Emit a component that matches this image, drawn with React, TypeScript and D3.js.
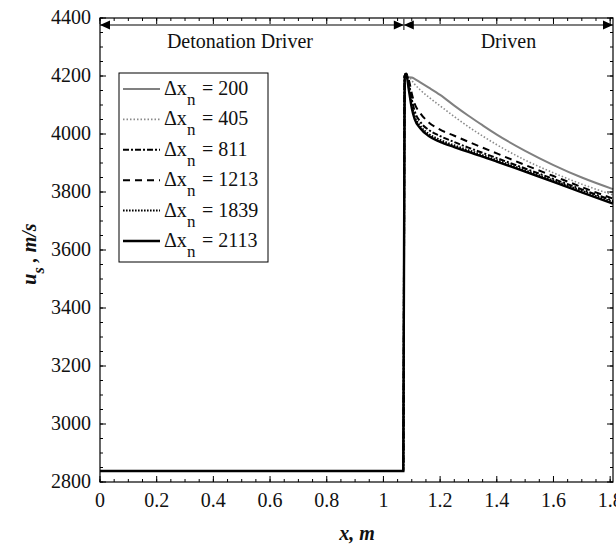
import React from "react";
import * as d3 from "d3";

const X = [0, 1.07, 1.075, 1.08, 1.09, 1.1, 1.11, 1.13, 1.16, 1.2, 1.25, 1.3, 1.35, 1.4, 1.5, 1.6, 1.7, 1.81];
const dx200 = [2838, 2838, 4185, 4192, 4196, 4195, 4190, 4178, 4160, 4135, 4098, 4063, 4030, 3998, 3942, 3893, 3850, 3810];
const dx405 = [2838, 2838, 4190, 4200, 4198, 4185, 4172, 4152, 4127, 4097, 4060, 4025, 3993, 3963, 3910, 3866, 3827, 3790];
const dx811 = [2838, 2838, 4200, 4208, 4175, 4120, 4080, 4042, 4014, 3993, 3972, 3953, 3935, 3917, 3881, 3845, 3809, 3770];
const dx1213 = [2838, 2838, 4200, 4208, 4185, 4140, 4105, 4072, 4040, 4015, 3994, 3973, 3953, 3933, 3893, 3855, 3817, 3777];
const dx1839 = [2838, 2838, 4200, 4208, 4160, 4100, 4062, 4028, 4000, 3980, 3961, 3944, 3927, 3910, 3875, 3840, 3804, 3765];
const dx2113 = [2838, 2838, 4200, 4208, 4150, 4090, 4052, 4020, 3993, 3973, 3955, 3938, 3922, 3905, 3870, 3835, 3799, 3760];

const legendLabels = ["200", "405", "811", "1213", "1839", "2113"];
const xTicks = [0, 0.2, 0.4, 0.6, 0.8, 1, 1.2, 1.4, 1.6, 1.8];
const yTicks = [2800, 3000, 3200, 3400, 3600, 3800, 4000, 4200, 4400];
const regionLabels = ["Detonation Driver", "Driven"];
const xDivide = 1.072;

const TF = { fontFamily: '"Liberation Serif", "Times New Roman", Tinos, monospace' };

const styles = [
  { color: "#808080", width: 2, dash: "none" },
  { color: "#8a8a8a", width: 1.6, dash: "1.5,2" },
  { color: "#000", width: 2, dash: "6,2,2,2" },
  { color: "#000", width: 2, dash: "7,5" },
  { color: "#000", width: 2, dash: "1.6,1.4" },
  { color: "#000", width: 2.4, dash: "none" },
];

export default function App() {
  const W = 616, H = 548;
  const L = 100, R = 613, T = 18, B = 482;
  const x = d3.scaleLinear().domain([0, 1.81]).range([L, R]);
  const y = d3.scaleLinear().domain([2800, 4400]).range([B, T]);
  const series = [dx200, dx405, dx811, dx1213, dx1839, dx2113];
  const line = d3
    .line<[number, number]>()
    .x((d) => x(d[0]))
    .y((d) => y(d[1]))
    .curve(d3.curveMonotoneX);

  const xMinor = d3.range(0, 1.81 + 1e-9, 0.05);
  const yMinor = d3.range(2800, 4400 + 1e-9, 50);
  const aY = 25;
  const xd = x(xDivide);
  const ah = 10, aw = 4.5;

  return (
    <svg width={W} height={H} style={{ display: "block", position: "absolute", left: 0, top: 0 }}>
      <rect x={0} y={0} width={W} height={H} fill="#fff" />
      {xMinor.map((v, i) => (
        <g key={"xm" + i} stroke="#000" strokeWidth={1}>
          <line x1={x(v)} x2={x(v)} y1={B} y2={B - 3} />
          <line x1={x(v)} x2={x(v)} y1={T} y2={T + 3} />
        </g>
      ))}
      {yMinor.map((v, i) => (
        <g key={"ym" + i} stroke="#000" strokeWidth={1}>
          <line x1={L} x2={L + 3} y1={y(v)} y2={y(v)} />
          <line x1={R} x2={R - 3} y1={y(v)} y2={y(v)} />
        </g>
      ))}
      {xTicks.map((v, i) => (
        <g key={"xt" + i}>
          <line x1={x(v)} x2={x(v)} y1={B} y2={B - 6} stroke="#000" />
          <line x1={x(v)} x2={x(v)} y1={T} y2={T + 6} stroke="#000" />
          <text x={x(v)} y={B + 25} fontSize={20} textAnchor="middle" fill="#111" style={TF}>
            {String(v)}
          </text>
        </g>
      ))}
      {yTicks.map((v, i) => (
        <g key={"yt" + i}>
          <line x1={L} x2={L + 6} y1={y(v)} y2={y(v)} stroke="#000" />
          <line x1={R} x2={R - 6} y1={y(v)} y2={y(v)} stroke="#000" />
          <text x={L - 9} y={y(v) + 6} fontSize={20} textAnchor="end" fill="#111" style={TF}>
            {String(v)}
          </text>
        </g>
      ))}
      {series.map((s, k) => (
        <path
          key={"s" + k}
          d={line(X.map((xv, i) => [xv, s[i]] as [number, number])) || ""}
          fill="none"
          stroke={styles[k].color}
          strokeWidth={styles[k].width}
          strokeDasharray={styles[k].dash}
        />
      ))}
      <rect x={L} y={T} width={R - L} height={B - T} fill="none" stroke="#000" strokeWidth={1.2} />
      <line x1={L} x2={R} y1={aY} y2={aY} stroke="#000" strokeWidth={1.2} />
      <line x1={xd} x2={xd} y1={T} y2={T + 12} stroke="#555" strokeWidth={1.5} />
      <path d={`M${L},${aY} L${L + ah},${aY - aw} L${L + ah},${aY + aw} Z`} fill="#000" />
      <path d={`M${R},${aY} L${R - ah},${aY - aw} L${R - ah},${aY + aw} Z`} fill="#000" />
      <path d={`M${xd},${aY} L${xd - ah},${aY - aw} L${xd - ah},${aY + aw} Z`} fill="#000" />
      <path d={`M${xd},${aY} L${xd + ah},${aY - aw} L${xd + ah},${aY + aw} Z`} fill="#000" />
      <text x={(L + xd) / 2 - 12} y={48} fontSize={20} textAnchor="middle" fill="#111" style={TF}>
        {regionLabels[0]}
      </text>
      <text x={(xd + R) / 2} y={48} fontSize={20} textAnchor="middle" fill="#111" style={TF}>
        {regionLabels[1]}
      </text>
      <rect x={119} y={73} width={149} height={189} fill="#fff" stroke="#000" strokeWidth={1} />
      {legendLabels.map((lab, k) => {
        const cy = 89 + k * 30.4;
        return (
          <g key={"lg" + k}>
            <line
              x1={123}
              x2={160}
              y1={cy}
              y2={cy}
              stroke={styles[k].color}
              strokeWidth={styles[k].width}
              strokeDasharray={styles[k].dash}
            />
            <text x={164} y={cy + 6} fontSize={20} fill="#111" style={TF}>
              Δx
            </text>
            <text x={187} y={cy + 16} fontSize={17} fill="#111" style={TF}>
              n
            </text>
            <text x={202} y={cy + 6} fontSize={20} fill="#111" style={TF}>
              = {lab}
            </text>
          </g>
        );
      })}
      <text x={357} y={540} fontSize={20} fontWeight="bold" fontStyle="italic" textAnchor="middle" fill="#111" style={TF}>
        x, m
      </text>
      <g transform="translate(36,254) rotate(-90)">
        <text x={0} y={0} fontSize={20} fontWeight="bold" fontStyle="italic" textAnchor="middle" fill="#111" style={TF}>
          u<tspan dy={8} fontSize={16}>s</tspan>
          <tspan dy={-8}> , m/s</tspan>
        </text>
      </g>
    </svg>
  );
}
